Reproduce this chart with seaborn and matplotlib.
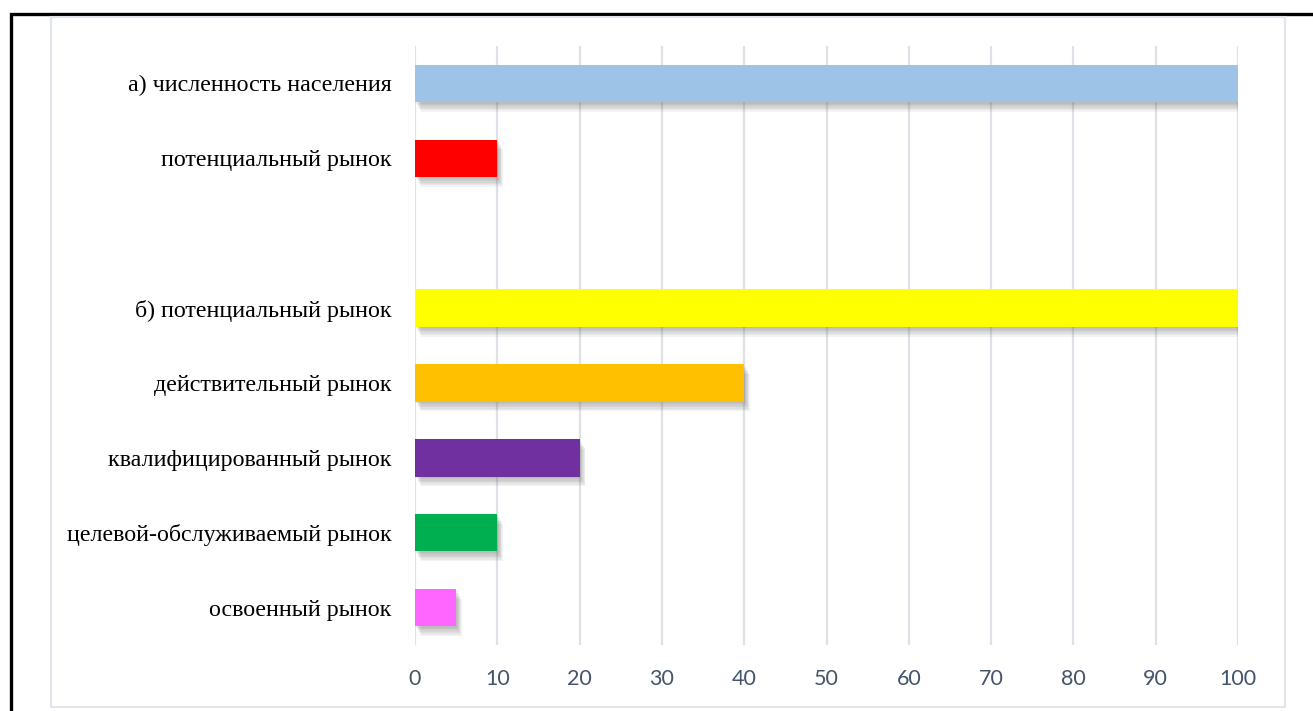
import matplotlib
matplotlib.use("Agg")
import matplotlib.pyplot as plt
import matplotlib.patheffects as pe
from matplotlib.patches import Rectangle
import seaborn as sns
import pandas as pd

# ---- data ----
categories = [
    "а) численность населения",
    "потенциальный рынок",
    " ",
    "б) потенциальный рынок",
    "действительный рынок",
    "квалифицированный рынок",
    "целевой-обслуживаемый рынок",
    "освоенный рынок",
]
values = [100, 10, None, 100, 40, 20, 10, 5]
colors = ["#9DC3E6", "#FF0000", "#FFFFFF", "#FFFF00", "#FFC000", "#7030A0", "#00B050", "#FF66FF"]
xticks = [0, 10, 20, 30, 40, 50, 60, 70, 80, 90, 100]

df = pd.DataFrame({"cat": categories, "val": values})
df = df.dropna()

sns.set_theme(style="white")
plt.rcParams["font.family"] = ["Liberation Serif", "DejaVu Serif"]

W, H = 1313, 711
fig = plt.figure(figsize=(W / 100, H / 100), dpi=100)
fig.patch.set_facecolor("white")

# outer black frame and inner grey chart-area frame
fig.add_artist(Rectangle((11 / W, -0.05), 1.2, 1 - 14 / H + 0.05, transform=fig.transFigure,
                         fill=False, edgecolor="black", linewidth=2.4, zorder=0))
fig.add_artist(Rectangle((51 / W, 4 / H), (1285 - 51) / W, (707 - 17) / H, transform=fig.transFigure,
                         fill=False, edgecolor="#E1E5EC", linewidth=1.5, zorder=0))

ax = fig.add_axes([415 / W, (H - 645) / H, (1238 - 415) / W, (645 - 46) / H])
palette = {c: col for c, col in zip(categories, colors)}
sns.barplot(data=df, y="cat", x="val", order=categories, hue="cat", hue_order=categories,
            palette=palette, orient="h", width=0.5, ax=ax, legend=False, saturation=1)

shadow = [pe.SimplePatchShadow(offset=(o * 0.6, -o), shadow_rgbFace="#606060", alpha=0.07)
          for o in range(1, 8)]
for p in ax.patches:
    p.set_linewidth(0)
    p.set_path_effects(shadow + [pe.Normal()])
    p.set_zorder(3)

ax.set_xlim(0, 100)
ax.set_ylim(7.5, -0.5)
ax.set_xticks(xticks)
ax.set_xticklabels([str(t) for t in xticks], fontfamily="Lato", fontsize=15.5, color="#44546A")
ax.set_yticks(range(len(categories)))
ax.set_yticklabels(categories, fontsize=17.3, color="black")
ax.tick_params(axis="y", length=0, pad=17)
ax.tick_params(axis="x", length=0, pad=17)
ax.set_xlabel("")
ax.set_ylabel("")
ax.grid(axis="x", color="#DDE1E8", linewidth=1.6, zorder=0)
ax.set_axisbelow(True)
for s in ax.spines.values():
    s.set_visible(False)
ax.set_facecolor("none")

fig.savefig("out.png", dpi=100, facecolor="white")
